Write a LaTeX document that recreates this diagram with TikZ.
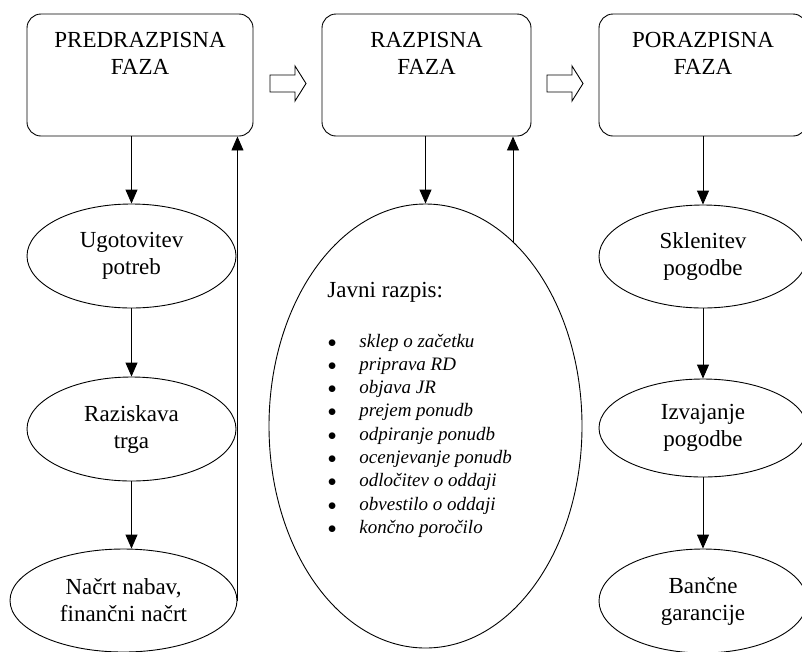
\documentclass[tikz,border=0pt]{standalone}
\usepackage{fontspec}
\setmainfont{Liberation Serif}
\usetikzlibrary{shapes.geometric,arrows.meta}

\newcommand{\itemdot}{\makebox[32pt][l]{\hspace{0.5pt}$\bullet$}}

\begin{document}
\begin{tikzpicture}[x=1pt,y=-1pt,
  line width=0.9pt,
  every node/.style={font=\fontsize{23}{27}\selectfont},
  phase/.style={draw, rounded corners=14pt, minimum height=122, inner sep=0},
  phasetext/.style={anchor=north, align=center, inner sep=0},
  oval/.style={draw, ellipse, inner sep=0, align=center},
  arr/.style={-{Triangle[length=14pt,width=12pt]}},
  blockarrow/.style={line width=0.9pt, line join=miter}
]
\useasboundingbox (0,0) rectangle (802,651);
\clip (0,0) rectangle (802,651);

% phase boxes
\node (b1) [phase, minimum width=226] at (140,75) {};
\node (b2) [phase, minimum width=209] at (426.5,75) {};
\node (b3) [phase, minimum width=208] at (703,75) {};
\node (t1) [phasetext] at (140,31.7) {PREDRAZPISNA\\FAZA};
\node (t2) [phasetext] at (426.5,31.7) {RAZPISNA\\FAZA};
\node (t3) [phasetext] at (703,31.7) {PORAZPISNA\\FAZA};

% hollow arrows between phases
\draw[blockarrow] (270,75) -- (295,75) -- (295,66) -- (306,83.5) -- (295,101) -- (295,92) -- (270,92) -- cycle;
\draw[blockarrow] (547,75) -- (572,75) -- (572,66) -- (583,83.5) -- (572,101) -- (572,92) -- (547,92) -- cycle;

% left column
\node (e1) [oval, minimum width=209, minimum height=104] at (131.5,256) {Ugotovitev\\potreb};
\node (e2) [oval, minimum width=209, minimum height=104] at (131.5,429) {Raziskava\\trga};
\node (e3) [oval, minimum width=227, minimum height=103] at (123.5,600.5) {Načrt nabav,\\finančni načrt};

% middle column
\node (big) [oval, minimum width=313, minimum height=444] at (425.5,426) {};
\node (jr) [anchor=base west, inner sep=0] at (327,297) {%
  \fontsize{19}{23.3}\selectfont
  \begin{tabular}[t]{@{}l@{}l@{}}
    \multicolumn{2}{@{}l@{}}{\fontsize{23}{27}\selectfont Javni razpis:}\\[26.7pt]
    \itemdot & \itshape sklep o začetku\\
    \itemdot & \itshape priprava RD\\
    \itemdot & \itshape objava JR\\
    \itemdot & \itshape prejem ponudb\\
    \itemdot & \itshape odpiranje ponudb\\
    \itemdot & \itshape ocenjevanje ponudb\\
    \itemdot & \itshape odločitev o oddaji\\
    \itemdot & \itshape obvestilo o oddaji\\
    \itemdot & \itshape končno poročilo
  \end{tabular}};
\coordinate (bigout) at (513,241.5);

% right column
\node (r1) [oval, minimum width=208, minimum height=103] at (703,256.5) {Sklenitev\\pogodbe};
\node (r2) [oval, minimum width=208, minimum height=98] at (703,428) {Izvajanje\\pogodbe};
\node (r3) [oval, minimum width=208, minimum height=104] at (703,601) {Bančne\\garancije};

% connectors
\draw[arr] (b1.south -| e1.north) -- (e1.north);
\draw[arr] (e1.south) -- (e2.north);
\draw[arr] (e2.south) -- (e2.south |- e3.north);
\draw[arr] (e3.east) -- (b1.south -| e3.east);

\draw[arr] (b2.south -| big.north) -- (big.north);
\draw[arr] (bigout) -- (b2.south -| bigout);

\draw[arr] (b3.south) -- (r1.north);
\draw[arr] (r1.south) -- (r2.north);
\draw[arr] (r2.south) -- (r3.north);
\end{tikzpicture}
\end{document}
